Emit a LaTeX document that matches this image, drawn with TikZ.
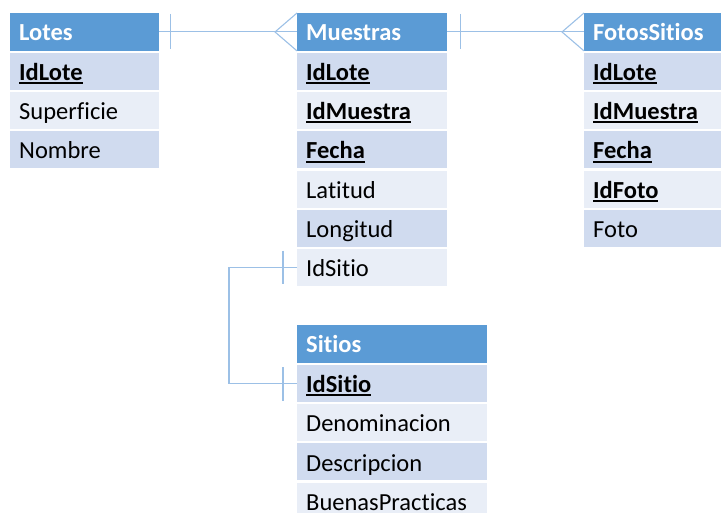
\documentclass[tikz,border=0pt]{standalone}
\usepackage{fontspec}
\setmainfont{Carlito}[Ligatures=NoCommon]
\definecolor{hdr}{HTML}{5B9BD5}
\definecolor{rowd}{HTML}{D0DBEF}
\definecolor{rowl}{HTML}{E9EEF7}
\definecolor{lnk}{HTML}{9CC0E6}
\newcommand\keyf[1]{\setbox0\hbox{\bfseries #1}\rlap{\rule[-3.8pt]{\wd0}{2.1pt}}\box0}
\begin{document}
\begin{tikzpicture}[x=1pt,y=-1pt,
  cell/.style={anchor=north west, inner xsep=9pt, inner ysep=0pt, minimum height=37pt,
    align=left, font=\fontsize{24.5}{29}\selectfont, text height=21pt, text depth=2.6pt},
  hcell/.style={cell, fill=hdr, text=white, font=\fontsize{24.5}{29}\selectfont\bfseries,
    minimum height=37.5pt, text height=20.5pt, text depth=2.6pt},
  dcell/.style={cell, fill=rowd},
  lcell/.style={cell, fill=rowl},
  conn/.style={draw=lnk, line width=1.1pt}]
\useasboundingbox (0,0) rectangle (721,513);
\clip (0,0) rectangle (721,513);
% Lotes
\node[hcell, text width=131pt] (lotes) at (10,13) {Lotes};
\node[dcell, text width=131pt] (lotes1) at (10,52.5) {\keyf{IdLote}};
\node[lcell, text width=131pt] (lotes2) at (10,91.8) {Superficie};
\node[dcell, text width=131pt] (lotes3) at (10,131.1) {Nombre};
% Muestras
\node[hcell, text width=132pt] (mues) at (297,13) {Muestras};
\node[dcell, text width=132pt] (mues1) at (297,52.5) {\keyf{IdLote}};
\node[lcell, text width=132pt] (mues2) at (297,91.8) {\keyf{IdMuestra}};
\node[dcell, text width=132pt] (mues3) at (297,131.1) {\keyf{Fecha}};
\node[lcell, text width=132pt] (mues4) at (297,170.4) {Latitud};
\node[dcell, text width=132pt] (mues5) at (297,209.7) {Longitud};
\node[lcell, text width=132pt] (mues6) at (297,249) {IdSitio};
% FotosSitios
\node[hcell, text width=119pt] (fotos) at (584,13) {FotosSitios};
\node[dcell, text width=119pt] (fotos1) at (584,52.5) {\keyf{IdLote}};
\node[lcell, text width=119pt] (fotos2) at (584,91.8) {\keyf{IdMuestra}};
\node[dcell, text width=119pt] (fotos3) at (584,131.1) {\keyf{Fecha}};
\node[lcell, text width=119pt] (fotos4) at (584,170.4) {\keyf{IdFoto}};
\node[dcell, text width=119pt] (fotos5) at (584,209.7) {Foto};
% Sitios
\node[hcell, text width=172pt] (sit) at (297,325) {Sitios};
\node[dcell, text width=172pt] (sit1) at (297,364.5) {\keyf{IdSitio}};
\node[lcell, text width=172pt] (sit2) at (297,403.8) {Denominacion};
\node[dcell, text width=172pt] (sit3) at (297,443.1) {Descripcion};
\node[lcell, text width=172pt] (sit4) at (297,482.4) {BuenasPracticas};
% Lotes -- Muestras
\draw[conn] (lotes.east) -- (mues.west);
\draw[conn] ([xshift=11pt,yshift=-1pt]lotes.north east) -- ([xshift=11pt,yshift=2pt]lotes.south east);
\draw[conn] (mues.north west) -- ([xshift=-22pt]mues.west) -- (mues.south west);
% Muestras -- FotosSitios
\draw[conn] (mues.east) -- (fotos.west);
\draw[conn] ([xshift=13pt,yshift=-1pt]mues.north east) -- ([xshift=13pt,yshift=2pt]mues.south east);
\draw[conn] (fotos.north west) -- ([xshift=-22pt]fotos.west) -- (fotos.south west);
% IdSitio -- Sitios
\coordinate (bend) at ([xshift=-68pt]mues6.west);
\draw[conn] (mues6.west) -- (bend) |- (sit1.west);
\draw[conn] ([xshift=-14pt,yshift=17pt]mues6.west) -- ([xshift=-14pt,yshift=-16pt]mues6.west);
\draw[conn] ([xshift=-14pt,yshift=16pt]sit1.west) -- ([xshift=-14pt,yshift=-18pt]sit1.west);
\end{tikzpicture}
\end{document}
